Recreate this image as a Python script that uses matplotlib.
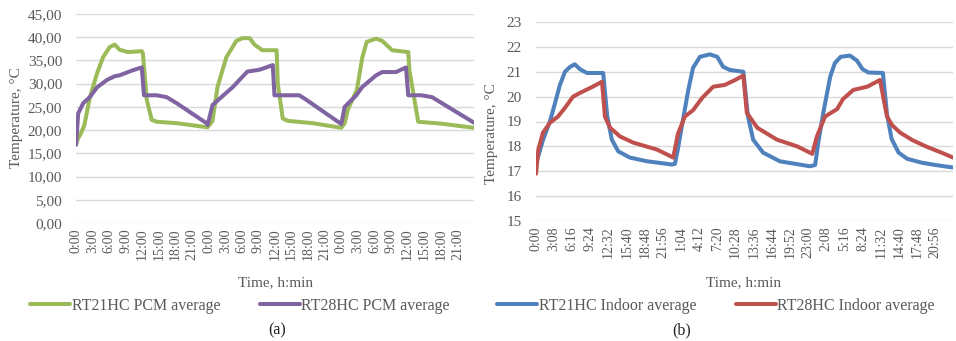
import matplotlib
matplotlib.use("Agg")
import matplotlib.pyplot as plt
from matplotlib.ticker import FuncFormatter

# ---------------- data (a) : PCM average, time in hours ----------------
pcm21_t = [0, 0.3, 1.0, 1.5, 2.5, 3.8, 4.9, 6.1, 7.0, 7.9, 9.4, 11.9, 12.1, 12.8, 13.7, 14.6,
           18.2, 23.8, 24.7, 25.6, 27.2, 29.0, 30.1, 31.4, 32.3, 33.7, 36.3, 36.5, 37.4, 38.3,
           42.8, 48.0, 48.6, 49.2, 50.8, 51.8, 52.6, 54.3, 55.4, 57.2, 60.1, 60.3, 61.9, 66.0, 72.0]
pcm21_v = [17.0, 18.0, 19.6, 21.0, 27.0, 32.2, 35.7, 37.9, 38.4, 37.3, 36.8, 37.0, 36.5, 26.5, 22.2, 21.8,
           21.5, 20.6, 22.0, 29.3, 35.7, 39.2, 39.8, 39.8, 38.4, 37.2, 37.2, 30.0, 22.5, 22.0,
           21.5, 20.5, 21.5, 24.5, 28.6, 35.7, 39.0, 39.7, 39.2, 37.2, 36.8, 33.0, 21.8, 21.4, 20.5]

pcm28_t = [0, 0.4, 1.3, 2.5, 3.8, 5.6, 7.0, 7.9, 10.3, 11.9, 12.3, 14.6, 16.4, 18.2, 23.6, 23.8,
           24.7, 26.3, 28.3, 31.0, 33.2, 35.6, 35.9, 40.4, 41.7, 48.0, 48.6, 50.7, 51.8, 54.3,
           55.4, 57.9, 59.7, 60.1, 62.5, 64.4, 72.0]
pcm28_v = [16.8, 23.6, 25.8, 27.1, 29.2, 30.8, 31.6, 31.8, 32.9, 33.5, 27.5, 27.5, 27.1, 25.8, 21.5, 21.1,
           25.4, 27.1, 29.2, 32.6, 33.0, 34.0, 27.5, 27.5, 26.5, 21.3, 25.0, 27.5, 29.3, 31.8,
           32.5, 32.5, 33.5, 27.5, 27.5, 27.1, 21.6]

# ---------------- data (b) : indoor average, time in hours ----------------
in21_t = [0, 0.2, 1.2, 2.4, 3.3, 4.1, 5.0, 5.9, 6.7, 7.6, 8.8, 11.6, 12.3, 13.1, 14.2, 16.2, 19.2, 23.5,
          24.0, 24.5, 25.4, 26.3, 27.1, 28.3, 30.0, 31.3, 32.3, 33.5, 35.8, 36.6, 37.5, 39.2, 42.1, 47.3,
          48.2, 48.7, 49.6, 50.8, 51.6, 52.6, 54.2, 55.4, 56.4, 57.4, 59.9, 60.6, 61.4, 62.6, 64.1,
          66.5, 69.0, 72.0]
in21_v = [17.4, 17.45, 18.25, 19.0, 19.75, 20.45, 21.0, 21.2, 21.3, 21.1, 20.95, 20.95, 19.2, 18.27, 17.8, 17.55, 17.4, 17.27,
          17.3, 17.9, 19.1, 20.27, 21.15, 21.6, 21.7, 21.6, 21.2, 21.07, 21.0, 19.2, 18.27, 17.75, 17.4, 17.2,
          17.25, 18.1, 19.35, 20.8, 21.35, 21.6, 21.65, 21.45, 21.1, 20.97, 20.95, 19.3, 18.3, 17.75, 17.5,
          17.35, 17.25, 17.15]

in28_t = [0, 0.4, 1.2, 2.4, 3.8, 5.0, 6.4, 7.6, 9.8, 11.4, 11.9, 12.8, 14.5, 16.8, 20.9, 23.7,
          24.5, 25.7, 27.1, 28.7, 30.6, 32.6, 34.4, 35.8, 36.4, 38.2, 41.6, 45.1, 47.7,
          48.5, 49.9, 52.0, 53.0, 54.8, 57.2, 59.4, 60.6, 61.5, 62.9, 65.0, 67.5, 70.0, 72.0]
in28_v = [16.9, 17.87, 18.55, 18.95, 19.2, 19.55, 20.0, 20.15, 20.4, 20.6, 19.2, 18.75, 18.4, 18.15, 17.87, 17.55,
          18.5, 19.2, 19.45, 19.95, 20.4, 20.47, 20.67, 20.85, 19.35, 18.75, 18.27, 18.0, 17.7,
          18.4, 19.2, 19.5, 19.9, 20.27, 20.4, 20.67, 19.2, 18.85, 18.55, 18.25, 17.98, 17.75, 17.55]

# tick labels
ticks_a_labels = ["0:00", "3:00", "6:00", "9:00", "12:00", "15:00", "18:00", "21:00"] * 3
ticks_b_labels = ["0:00", "3:08", "6:16", "9:24", "12:32", "15:40", "18:48", "21:56",
                  "1:04", "4:12", "7:20", "10:28", "13:36", "16:44", "19:52", "23:00",
                  "2:08", "5:16", "8:24", "11:32", "14:40", "17:48", "20:56"]

labels_a = ["RT21HC PCM average", "RT28HC PCM average"]
labels_b = ["RT21HC Indoor average", "RT28HC Indoor average"]

GREEN, PURPLE, BLUE, RED = "#9BBB59", "#8064A2", "#4F81BD", "#C0504D"
TXT = "#595959"
GRID = "#D9D9D9"

plt.rcParams["font.family"] = ["Liberation Serif", "DejaVu Serif"]

W, H = 956, 341
fig = plt.figure(figsize=(W / 100, H / 100), dpi=100)

def fx(x):
    return x / W

def fy(y):
    return 1 - y / H

axA = fig.add_axes([fx(76), fy(223), fx(474 - 76), (223 - 14) / H])
axB = fig.add_axes([fx(536), fy(221), fx(953 - 536), (221 - 22) / H])

LW = 2.9
kw = dict(lw=LW, solid_joinstyle="round", solid_capstyle="round")
lA1, = axA.plot(pcm21_t, pcm21_v, color=GREEN, zorder=3, **kw)
lA2, = axA.plot(pcm28_t, pcm28_v, color=PURPLE, zorder=3, **kw)
lB1, = axB.plot(in21_t, in21_v, color=BLUE, zorder=3, **kw)
lB2, = axB.plot(in28_t, in28_v, color=RED, zorder=4, **kw)

for ax in (axA, axB):
    for s in ax.spines.values():
        s.set_visible(False)
    ax.grid(axis="y", color=GRID, lw=1.0, zorder=0)
    ax.set_axisbelow(True)
    ax.tick_params(axis="both", length=0, colors=TXT)
    ax.set_xlim(0, 72)

# panel (a) axes
axA.set_ylim(0, 45)
axA.set_yticks([0, 5, 10, 15, 20, 25, 30, 35, 40, 45])
axA.yaxis.set_major_formatter(FuncFormatter(lambda v, p: f"{v:.2f}".replace(".", ",")))
axA.set_xticks([3 * i for i in range(len(ticks_a_labels))])
axA.set_xticklabels(ticks_a_labels, rotation=90, fontsize=10, color=TXT)
axA.tick_params(axis="y", labelsize=11, pad=10)
axA.tick_params(axis="x", pad=4)

# panel (b) axes
axB.set_ylim(15, 23)
axB.set_yticks(list(range(15, 24)))
step_h = 188 / 60
axB.set_xticks([step_h * i for i in range(len(ticks_b_labels))])
axB.set_xticklabels(ticks_b_labels, rotation=90, fontsize=10, color=TXT)
axB.tick_params(axis="y", labelsize=11, pad=10)
axB.tick_params(axis="x", pad=4)

# axis titles
fig.text(fx(17), fy(118), "Temperature, °C", rotation=90, ha="center", va="center", fontsize=11, color=TXT)
fig.text(fx(492), fy(134), "Temperature, °C", rotation=90, ha="center", va="center", fontsize=11, color=TXT)
fig.text(fx(276), fy(283), "Time, h:min", ha="center", va="center", fontsize=11, color=TXT)
fig.text(fx(744), fy(283), "Time, h:min", ha="center", va="center", fontsize=11, color=TXT)

# legends
legkw = dict(frameon=False, ncol=2, fontsize=11.5, handlelength=2.5, handletextpad=0.1,
             columnspacing=2.5, borderpad=0, borderaxespad=0, labelcolor=TXT)
fig.legend([lA1, lA2], labels_a, loc="center left", bbox_to_anchor=(fx(30), fy(306)), **legkw)
fig.legend([lB1, lB2], labels_b, loc="center left", bbox_to_anchor=(fx(497), fy(306)), **legkw)

fig.text(fx(277), fy(330), "(a)", ha="center", va="center", fontsize=11.5, color="#222222")
fig.text(fx(682), fy(330), "(b)", ha="center", va="center", fontsize=11.5, color="#222222")

fig.savefig("out.png", dpi=100)
